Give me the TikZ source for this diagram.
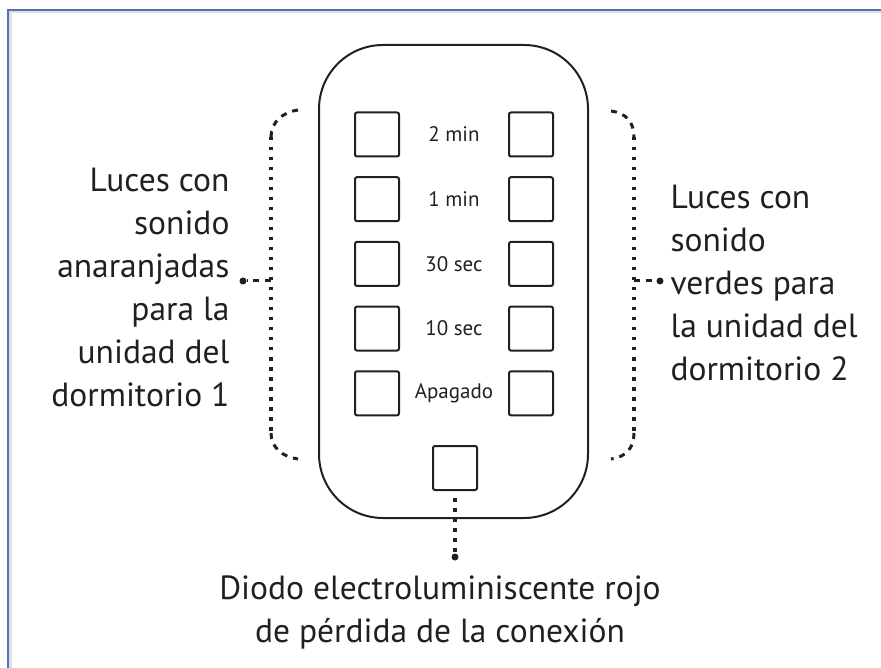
\documentclass[tikz,border=0pt]{standalone}
\usepackage{fontspec}
\setmainfont{PT Sans}
\usepackage{tikz}
\usetikzlibrary{}

\definecolor{framecol}{RGB}{84,112,190}
\definecolor{inkcol}{RGB}{35,31,32}

\begin{document}
\begin{tikzpicture}[x=1pt,y=-1pt,
  box/.style={draw=inkcol,line width=2pt,rounded corners=2pt,minimum width=44pt,minimum height=44pt,inner sep=0pt},
  small/.style={font=\fontsize{21}{24}\selectfont,text=inkcol},
  big/.style={font=\fontsize{33.5}{43}\selectfont,text=inkcol},
  dots/.style={draw=inkcol,line width=3.5pt,dash pattern=on 3.5pt off 6.5pt},
  dashes/.style={draw=inkcol,line width=3pt,dash pattern=on 6pt off 6pt},
  pin/.style={circle,fill=inkcol,inner sep=0pt,minimum size=7pt}]
  \useasboundingbox (0,0) rectangle (881,668);
  % frame
  \draw[line width=3pt,black!12] (10,668) -- (10,12) -- (881,12);
  \draw[line width=2pt,framecol] (8,668) -- (8,10) -- (881,10);
  % remote
  \node[draw=inkcol,line width=2pt,rounded corners=64pt,minimum width=269pt,minimum height=473pt] (remote) at (453.5,281.5) {};
  \foreach \t [count=\i] in {2 min,1 min,30 sec,10 sec,Apagado} {
    \node[box] (lsq\i) at (377,{134.5+64.7*(\i-1)}) {};
    \node[box] (rsq\i) at (531,{134.5+64.7*(\i-1)}) {};
    \node[small] (lab\i) at (454,{134.5+64.7*(\i-1)}) {\t};
  }
  \node[box] (led) at (455,468) {};
  % left bracket
  \coordinate (ltop) at (298,110);
  \coordinate (lbot) at (298,459);
  \coordinate (lmid) at (271,281);
  \draw[dashes] (ltop) .. controls (283,112) and (271,122) .. (271,137);
  \draw[dots] (271,137) -- (271,433);
  \draw[dashes] (271,433) .. controls (271,448) and (283,457) .. (lbot);
  \node[pin] (ldot) at (243,281) {};
  \draw[dashes] (lmid) -- (ldot);
  % right bracket
  \coordinate (rtop) at (611,111);
  \coordinate (rbot) at (611,459);
  \coordinate (rmid) at (634,281);
  \draw[dashes] (rtop) .. controls (626,113) and (634,122) .. (634,137);
  \draw[dots] (634,137) -- (634,433);
  \draw[dashes] (634,433) .. controls (634,448) and (626,457) .. (rbot);
  \node[pin] (rdot) at (660,281) {};
  \draw[dashes] (rmid) -- (rdot);
  % led
  \node[pin] (bdot) at (455,557) {};
  \draw[dots] (led.south) ++(0,7) -- (bdot);
  % texts
  \node[big,align=right,anchor=east] (ltext) at (233,287) {Luces con\\sonido\\anaranjadas\\para la\\unidad del\\dormitorio 1};
  \node[big,align=left,anchor=west] (rtext) at (667,283) {Luces con\\sonido\\verdes para\\la unidad del\\dormitorio 2};
  \node[big,align=center] (btext) at (440,612) {Diodo electroluminiscente rojo\\de pérdida de la conexión};
\end{tikzpicture}
\end{document}
